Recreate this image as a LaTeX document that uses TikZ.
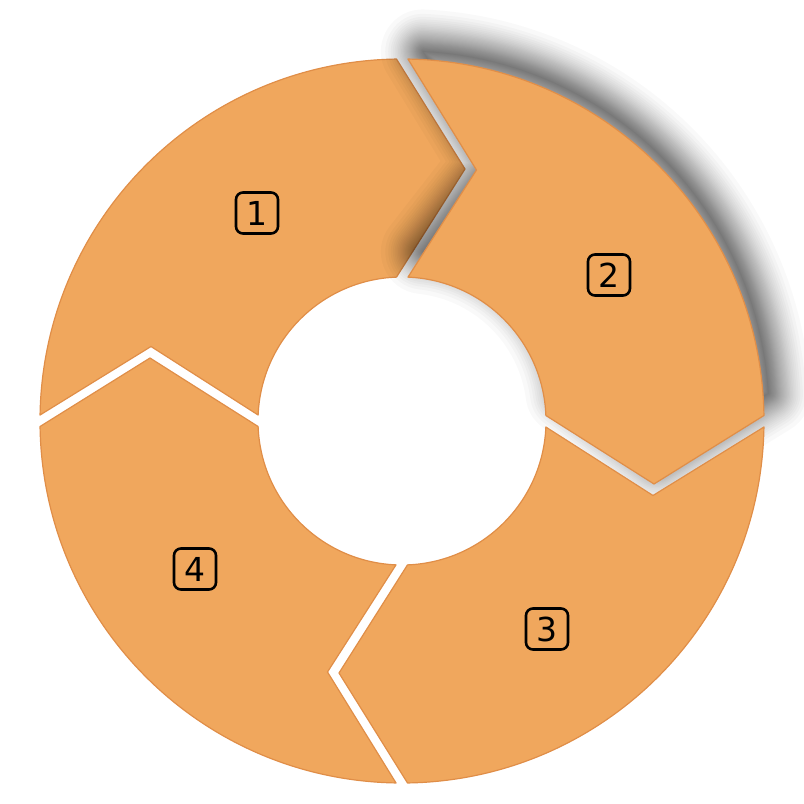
\documentclass[tikz,border=0pt]{standalone}
\usepackage{fontspec}
\setmainfont{DejaVu Sans}
\definecolor{segfill}{RGB}{240,167,93}
\definecolor{segline}{RGB}{224,142,72}
\begin{document}
\begin{tikzpicture}[x=1pt,y=1pt,
  seg/.style={fill=segfill, draw=segline, line width=1.2pt, line join=round},
  blurline/.style={draw=black, opacity=0.025, line join=round},
  lbl/.style={draw=black, line width=2.6pt, rounded corners=7pt, minimum width=42pt,
    minimum height=41pt, inner sep=0pt, font=\fontsize{33}{33}\selectfont}]
\useasboundingbox (-402,-383) rectangle (402,421);
\def\segpath{(89.05:362) -- (74.5,251) -- (87.61:144)
  arc[start angle=87.61,end angle=2.19,radius=144] -- (252,-63) -- (0.87:362)
  arc[start angle=0.87,end angle=89.05,radius=362] -- cycle}
\def\shadowpath{(87.17:364) -- (86.5,251) -- (83.7:164)
  arc[start angle=83.7,end angle=7.53,radius=164] -- (252,-47) -- (3.39:364)
  arc[start angle=3.39,end angle=87.17,radius=364] -- cycle}
% segment 1 and 4
\begin{scope}[rotate=90]\path[seg] \segpath;\end{scope}
\begin{scope}[rotate=180]\path[seg] \segpath;\end{scope}
% soft shadow of segment 2
\begin{scope}[shift={(3,6)}]
\foreach \h in {42,37.6,34.6,32.1,30,28.1,26.4,24.8,23.3,21.8,20.5,19.2,18,16.8,15.7,14.6,
  13.5,12.5,11.5,10.5,9.6,8.7,7.8,6.9,6,5.2,4.3,3.5,2.7,1.9,1.1,0.4}
  {\path[blurline, line width=2*\h pt] \shadowpath;}
\end{scope}
% segment 2 and 3
\path[seg] \segpath;
\begin{scope}[rotate=-90]\path[seg] \segpath;\end{scope}
% labels
\node[lbl] (l1) at (-145,208) {1};
\node[lbl] (l2) at (207,146) {2};
\node[lbl] (l3) at (145,-208) {3};
\node[lbl] (l4) at (-207,-148) {4};
\end{tikzpicture}
\end{document}
